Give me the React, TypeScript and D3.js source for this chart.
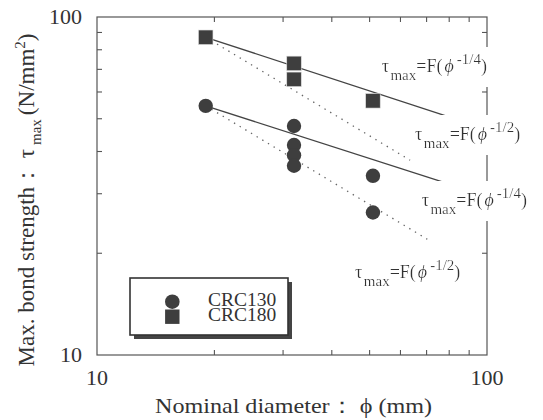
import React from "react";
import * as d3 from "d3";

// ---- data ----
const X_DOMAIN = [10, 100];
const Y_DOMAIN = [10, 100];
const MINOR_TICKS = [20, 30, 40, 50, 60, 70, 80, 90];
const X_TICK_LABELS = ["10", "100"];
const Y_TICK_LABELS = ["10", "100"];

const crc130Phi = [19, 32, 32, 32, 32, 51, 51];
const crc130Tau = [54.6, 47.6, 41.8, 39.0, 36.3, 33.9, 26.4];
const crc180Phi = [19, 32, 32, 51];
const crc180Tau = [87.1, 72.9, 65.4, 56.5];

// fitted lines: start/end in data units
const lineNames = ["CRC180 -1/4", "CRC180 -1/2", "CRC130 -1/4", "CRC130 -1/2"];
const linePhiStart = [19, 19, 19, 19];
const lineTauStart = [87.1, 87.1, 54.6, 54.6];
const linePhiEnd = [78.8, 63.5, 76.5, 70.3];
const lineTauEnd = [50.9, 37.7, 32.6, 22.0];
const lineDotted = [false, true, false, true];

// annotation labels (anchor in data units)
const labelExp = ["-1/4", "-1/2", "-1/4", "-1/2"];
const labelPhi = [53.7, 65.4, 68.0, 45.9];
const labelTau = [68.8, 43.3, 27.6, 16.9];

const legendNames = ["CRC130", "CRC180"];

const FONT = "'Liberation Serif', 'Times New Roman', Times, serif";
const TEXT = "#333";
const MARK = "#3e3e3e";

export default function App() {
  const W = 543;
  const H = 420;
  const left = 97, right = 487, top = 17, bottom = 355;
  const x = d3.scaleLog().domain(X_DOMAIN).range([left, right]);
  const y = d3.scaleLog().domain(Y_DOMAIN).range([bottom, top]);
  const tickLen = 5;
  const lineGen = d3
    .line<[number, number]>()
    .x((d) => x(d[0]))
    .y((d) => y(d[1]));

  const sq = 14.5;
  const r = 7.2;

  return (
    <svg
      width={W}
      height={H}
      viewBox={`0 0 ${W} ${H}`}
      style={{ position: "absolute", left: 0, top: 0, background: "#fff" }}
      fontFamily={FONT}
    >
      <defs>
        <filter id="whitebg" x="-0.03" y="-0.12" width="1.06" height="1.24">
          <feFlood floodColor="#fff" />
          <feMerge>
            <feMergeNode />
            <feMergeNode in="SourceGraphic" />
          </feMerge>
        </filter>
      </defs>
      <rect x={0} y={0} width={W} height={H} fill="#fff" />

      {/* frame */}
      <rect
        x={left}
        y={top}
        width={right - left}
        height={bottom - top}
        fill="none"
        stroke="#555"
        strokeWidth={1.2}
      />
      {/* minor ticks on all sides, inward */}
      {MINOR_TICKS.map((t) => (
        <g key={"t" + t} stroke="#555" strokeWidth={1.1}>
          <line x1={x(t)} x2={x(t)} y1={bottom} y2={bottom - tickLen} />
          <line x1={x(t)} x2={x(t)} y1={top} y2={top + tickLen} />
          <line x1={left} x2={left + tickLen} y1={y(t)} y2={y(t)} />
          <line x1={right} x2={right - tickLen} y1={y(t)} y2={y(t)} />
        </g>
      ))}

      {/* tick labels */}
      {X_TICK_LABELS.map((s, i) => (
        <text
          key={"xl" + s}
          x={x(X_DOMAIN[i])}
          y={385}
          textAnchor="middle"
          fontSize={22}
          fill={TEXT}
        >
          {s}
        </text>
      ))}
      {Y_TICK_LABELS.map((s, i) => (
        <text
          key={"yl" + s}
          x={82}
          y={y(Y_DOMAIN[i]) + 7}
          textAnchor="end"
          fontSize={22}
          fill={TEXT}
        >
          {s}
        </text>
      ))}

      {/* fitted lines */}
      {lineNames.map((n, i) => (
        <path
          key={n}
          d={
            lineGen([
              [linePhiStart[i], lineTauStart[i]],
              [linePhiEnd[i], lineTauEnd[i]],
            ]) || ""
          }
          fill="none"
          stroke={lineDotted[i] ? "#666" : "#444"}
          strokeWidth={1.3}
          strokeDasharray={lineDotted[i] ? "1.4 5.2" : undefined}
        />
      ))}

      {/* points */}
      {crc130Phi.map((p, i) => (
        <circle key={"c" + i} cx={x(p)} cy={y(crc130Tau[i])} r={r} fill={MARK} />
      ))}
      {crc180Phi.map((p, i) => (
        <rect
          key={"s" + i}
          x={x(p) - sq / 2}
          y={y(crc180Tau[i]) - sq / 2}
          width={sq}
          height={sq}
          fill={MARK}
          stroke="#ddd"
          strokeWidth={0.6}
        />
      ))}

      {/* annotations */}
      {labelExp.map((e, i) => (
        <text
          key={"lab" + i}
          x={x(labelPhi[i])}
          y={y(labelTau[i])}
          fontSize={18}
          fill={TEXT}
          filter="url(#whitebg)"
        >
          <tspan>τ</tspan>
          <tspan fontSize={15} dx={1.5} dy={8}>max</tspan>
          <tspan dy={-8}>=F(</tspan>
          <tspan dx={2} fontStyle="italic">ϕ</tspan>
          <tspan fontSize={15} dx={3} dy={-8}>{e}</tspan>
          <tspan dy={8}>)</tspan>
        </text>
      ))}

      {/* legend */}
      <g>
        <rect x={134} y={282} width={158} height={57} fill="#444" />
        <rect
          x={130}
          y={278}
          width={158}
          height={57}
          fill="#fff"
          stroke="#333"
          strokeWidth={1.6}
        />
        <circle cx={172.3} cy={301.7} r={7.3} fill={MARK} />
        <rect x={172.3 - 7.2} y={316.7 - 7.2} width={14.4} height={14.4} fill={MARK} />
        {legendNames.map((n, i) => (
          <text key={n} x={208} y={305.5 + i * 15} fontSize={19.5} fill={TEXT}>
            {n}
          </text>
        ))}
      </g>

      {/* axis titles */}
      <text
        x={(155 + 432) / 2}
        y={413}
        textAnchor="middle"
        fontSize={22}
        fill={TEXT}
        textLength={277}
        lengthAdjust="spacingAndGlyphs"
      >
        Nominal diameter： ϕ (mm)
      </text>
      <text
        transform={`translate(34, 200) rotate(-90)`}
        textAnchor="middle"
        fontSize={23}
        fill={TEXT}
      >
        <tspan>Max. bond strength： τ</tspan>
        <tspan fontSize={15} dx={4} dy={7}>max</tspan>
        <tspan dx={4} dy={-7}>(N/mm</tspan>
        <tspan fontSize={15} dy={-9}>2</tspan>
        <tspan dy={9}>)</tspan>
      </text>
    </svg>
  );
}
